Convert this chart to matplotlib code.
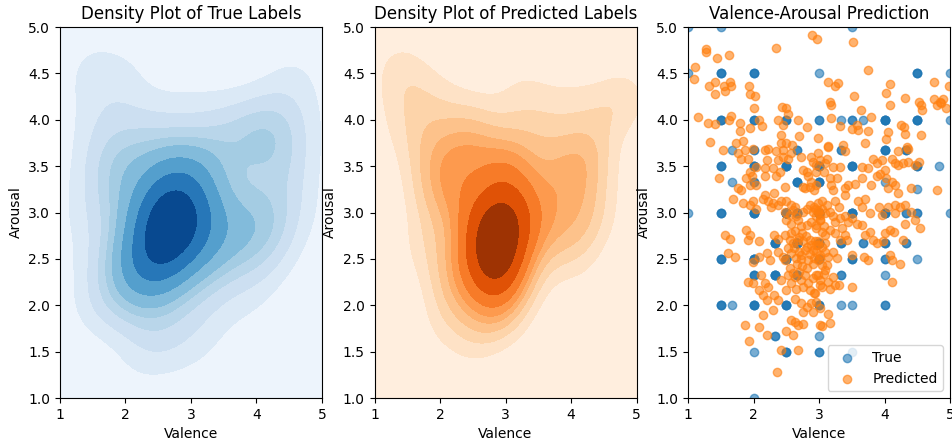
import numpy as np
import matplotlib
matplotlib.use("Agg")
import matplotlib.pyplot as plt
import seaborn as sns

# true labels sit on a coarse grid; count = number of samples at that spot
true_valence = [1.0, 1.5, 3.5,
                1.0, 1.5, 2.0, 3.0, 4.5, 5.0,
                1.5, 2.0, 2.5, 3.0, 3.33, 3.5, 3.67, 4.0, 4.5, 5.0,
                1.67, 2.0, 2.67, 3.33, 4.0, 4.33,
                1.5, 2.0, 2.5, 3.0, 3.5, 4.5, 4.83,
                1.67, 2.0, 2.67, 3.0, 4.0,
                4.5,
                1.0, 1.5, 2.0, 2.5, 2.67, 3.0, 3.5, 4.0, 4.33, 4.5, 5.0,
                2.33, 2.67, 3.0, 3.33, 3.67, 4.0, 4.33,
                1.5, 2.0, 2.5, 3.0, 3.5, 4.0, 4.5,
                2.0, 2.33, 2.67, 3.33, 4.0,
                1.5, 1.67, 2.0, 2.5, 3.0, 3.33, 3.5, 4.0,
                2.33, 3.0,
                2.0, 2.5, 3.0, 3.5,
                2.0]
true_arousal = [5.0] * 3 + [4.5] * 6 + [4.0] * 10 + [3.67] * 6 + [3.5] * 7 + \
               [3.33] * 5 + [3.25] + [3.0] * 11 + [2.67] * 7 + [2.5] * 7 + \
               [2.33] * 5 + [2.0] * 8 + [1.67] * 2 + [1.5] * 4 + [1.0]
true_count = [1, 1, 1,
              1, 3, 3, 1, 3, 1,
              3, 3, 3, 2, 1, 2, 1, 5, 4, 1,
              1, 2, 2, 2, 4, 3,
              3, 4, 5, 5, 4, 3, 1,
              1, 2, 4, 4, 1,
              1,
              1, 3, 5, 12, 5, 12, 6, 5, 2, 2, 1,
              5, 8, 5, 3, 2, 3, 2,
              3, 5, 6, 3, 3, 2, 1,
              3, 5, 4, 2, 1,
              3, 1, 4, 4, 3, 1, 1, 2,
              2, 1,
              1, 3, 2, 1,
              1]

# model predictions (valence, arousal)
predicted = [
    (1.10, 4.57), (1.09, 4.44), (1.28, 4.76), (1.28, 4.73), (1.45, 4.67), (1.63, 4.70),
    (2.35, 4.78), (2.89, 4.92), (2.97, 4.87), (1.41, 4.41), (1.32, 4.36), (1.55, 4.36),
    (1.64, 4.41), (1.56, 4.31), (1.65, 4.37), (1.41, 4.28), (1.93, 4.37), (1.95, 4.28),
    (2.02, 4.26), (2.00, 4.13), (1.16, 4.03), (1.30, 3.97), (1.41, 3.96), (1.62, 4.00),
    (1.65, 4.04), (1.79, 3.97), (1.80, 3.88), (1.95, 3.91), (2.13, 3.93), (2.09, 4.00),
    (2.37, 4.00), (2.44, 4.14), (2.49, 4.13), (2.52, 4.06), (2.45, 3.94), (2.68, 4.00),
    (2.82, 3.92), (1.33, 3.76), (1.74, 3.75), (1.84, 3.77), (2.42, 3.84), (2.42, 3.75),
    (2.49, 3.75), (2.59, 3.73), (2.70, 3.83), (2.98, 3.80),
    (3.52, 4.84), (3.75, 4.54), (3.13, 4.41), (3.25, 4.37), (3.29, 4.40), (4.08, 4.39),
    (4.03, 4.29), (3.54, 4.26), (4.75, 4.41), (4.99, 4.36), (3.17, 4.19), (3.18, 4.16),
    (4.32, 4.24), (4.08, 4.16), (3.64, 4.11), (4.53, 4.19), (4.56, 4.16), (4.58, 4.11),
    (4.75, 4.22), (4.80, 4.16), (4.85, 4.19), (4.90, 4.23), (4.87, 4.18), (4.94, 4.13),
    (3.18, 4.02), (3.80, 4.03), (3.32, 3.93), (3.50, 3.90), (3.58, 3.94), (3.59, 3.89),
    (3.75, 3.88), (4.25, 3.94), (4.30, 3.92), (4.32, 3.85), (4.05, 3.87), (4.03, 3.79),
    (4.56, 3.84), (3.70, 3.75), (3.14, 3.72), (3.37, 3.73), (4.35, 3.71),
    (1.53, 3.67), (1.76, 3.64), (1.87, 3.67), (1.99, 3.69), (2.17, 3.67), (2.22, 3.69),
    (2.35, 3.66), (2.45, 3.67), (2.58, 3.64), (2.73, 3.60), (2.88, 3.60), (2.98, 3.64),
    (1.81, 3.58), (1.92, 3.58), (2.20, 3.57), (2.37, 3.57), (2.45, 3.60), (2.53, 3.58),
    (2.91, 3.55), (2.96, 3.51), (2.04, 3.49), (2.17, 3.48), (2.30, 3.48), (2.40, 3.44),
    (2.17, 3.39), (1.94, 3.44), (1.97, 3.39), (1.89, 3.37), (1.48, 3.37), (1.76, 3.26),
    (1.81, 3.24), (1.94, 3.30), (2.04, 3.30), (2.35, 3.39), (2.76, 3.46), (2.81, 3.44),
    (2.83, 3.39), (2.88, 3.33), (2.76, 3.28), (2.78, 3.26), (2.86, 3.28), (2.96, 3.30),
    (2.93, 3.24), (2.48, 3.28), (1.69, 3.15), (1.84, 3.10), (1.94, 3.08), (1.99, 3.13),
    (2.15, 3.15), (2.17, 3.19), (2.32, 3.21), (2.22, 3.13), (2.30, 3.10), (2.37, 3.08),
    (2.42, 3.13), (2.50, 3.13), (2.27, 3.06), (2.04, 3.04), (2.58, 3.08), (2.63, 3.06),
    (2.60, 3.03), (2.48, 3.01), (2.55, 2.97), (2.65, 2.96), (2.76, 3.01), (2.81, 3.04),
    (2.86, 3.08), (2.93, 3.06), (2.91, 3.01), (2.98, 3.03), (2.98, 3.10), (3.01, 2.97),
    (2.68, 2.92), (2.73, 2.85), (2.81, 2.87), (2.88, 2.90), (2.96, 2.87), (3.01, 2.92),
    (2.58, 2.88), (2.50, 2.92), (1.89, 2.81), (1.92, 2.70), (2.09, 2.69), (1.56, 2.76),
    (1.64, 2.72), (1.94, 2.76), (2.32, 2.76), (2.37, 2.72), (2.48, 2.76), (2.55, 2.70),
    (2.60, 2.67), (2.70, 2.74), (2.76, 2.69), (2.81, 2.63), (2.88, 2.65), (2.91, 2.60),
    (2.98, 2.69), (2.96, 2.65), (1.61, 2.56), (1.71, 2.52), (1.99, 2.47), (2.09, 2.52),
    (2.20, 2.56), (2.25, 2.49), (2.37, 2.58), (2.45, 2.52), (2.48, 2.49), (2.58, 2.56),
    (2.65, 2.51), (2.73, 2.54), (2.83, 2.49), (2.93, 2.51), (2.91, 2.45), (3.01, 2.51),
    # tightly packed core, partly hidden behind neighbours
    (2.62, 2.62), (2.70, 2.58), (2.78, 2.60), (2.66, 2.45), (2.74, 2.42), (2.82, 2.40),
    (2.55, 2.40), (2.60, 2.35), (2.70, 2.36), (2.86, 2.55), (2.52, 2.62), (2.64, 2.80),
    (2.74, 2.78), (2.80, 2.75), (2.58, 2.78), (2.68, 2.70), (2.86, 2.70), (2.72, 2.50),
    (3.14, 3.71), (3.40, 3.66), (4.21, 3.66), (4.36, 3.69), (3.02, 3.57), (3.09, 3.53),
    (3.12, 3.58), (3.22, 3.49), (3.32, 3.49), (3.65, 3.49), (3.75, 3.48), (3.83, 3.58),
    (3.88, 3.53), (3.96, 3.57), (4.11, 3.58), (4.16, 3.53), (4.21, 3.51), (4.29, 3.53),
    (4.36, 3.55), (4.47, 3.51), (4.52, 3.55), (2.96, 3.44), (3.07, 3.44), (3.17, 3.37),
    (3.27, 3.37), (3.19, 3.30), (3.22, 3.24), (3.40, 3.26), (3.45, 3.30), (3.55, 3.31),
    (3.65, 3.37), (3.80, 3.30), (3.88, 3.39), (3.93, 3.42), (4.01, 3.46), (4.03, 3.37),
    (4.11, 3.33), (4.16, 3.30), (4.06, 3.26), (4.21, 3.21), (4.41, 3.26), (4.80, 3.24),
    (3.04, 3.12), (3.12, 3.08), (3.24, 3.12), (3.30, 3.06), (3.40, 3.19), (3.60, 3.13),
    (3.70, 3.15), (3.65, 3.06), (3.78, 2.99), (3.91, 3.06), (4.06, 3.06), (4.16, 3.08),
    (4.24, 3.06), (4.31, 3.08), (4.41, 3.01), (4.47, 2.92), (4.31, 2.88), (4.54, 2.83),
    (4.16, 2.99), (3.96, 2.97), (2.94, 3.04), (2.99, 3.01), (2.96, 2.96), (3.02, 2.92),
    (3.04, 3.04), (3.09, 2.99), (3.17, 3.01), (3.22, 2.96), (3.24, 2.90), (3.32, 2.94),
    (3.40, 2.96), (3.45, 2.90), (3.50, 2.94), (3.58, 2.88), (3.65, 2.87), (2.96, 2.83),
    (3.04, 2.79), (3.09, 2.76), (3.07, 2.85), (3.17, 2.81), (3.24, 2.78), (3.35, 2.83),
    (3.40, 2.76), (3.32, 2.70), (3.42, 2.70), (3.70, 2.76), (3.78, 2.79), (3.83, 2.70),
    (3.88, 2.67), (4.01, 2.78), (4.09, 2.81), (3.98, 2.69), (4.14, 2.79), (4.29, 2.70),
    (2.94, 2.69), (2.99, 2.65), (3.04, 2.63), (3.09, 2.67), (2.96, 2.58), (3.02, 2.54),
    (3.09, 2.58), (3.14, 2.52), (3.22, 2.58), (3.27, 2.51), (2.99, 2.49), (3.04, 2.43),
    (3.12, 2.43), (3.09, 2.38), (4.09, 2.54), (4.11, 2.49), (4.24, 2.45), (3.68, 2.52),
    (3.75, 2.49), (3.50, 2.54),
    (1.92, 2.25), (1.99, 2.24), (2.12, 2.33), (2.17, 2.24), (2.09, 2.16), (2.15, 2.11),
    (2.22, 2.20), (2.20, 2.06), (2.32, 2.11), (2.37, 2.06), (2.30, 1.95), (2.42, 2.27),
    (2.53, 2.33), (2.58, 2.24), (2.63, 2.31), (2.73, 2.27), (2.78, 2.33), (2.83, 2.24),
    (2.91, 2.29), (2.98, 2.33), (2.50, 2.16), (2.65, 2.18), (2.76, 2.20), (2.86, 2.16),
    (2.93, 2.13), (3.01, 2.22), (2.63, 2.07), (2.73, 2.02), (2.81, 1.98), (2.88, 2.02),
    (2.96, 2.04), (3.01, 1.97), (2.76, 1.93), (2.91, 1.93), (2.15, 1.89), (1.87, 1.79),
    (2.08, 1.77), (1.93, 1.61), (2.20, 1.68), (2.58, 1.84), (2.63, 1.82), (2.68, 1.79),
    (2.76, 1.80), (2.50, 1.72), (2.60, 1.68), (2.42, 1.52), (2.68, 1.52), (2.36, 1.28),
    (3.01, 1.79), (2.96, 2.33), (3.02, 2.27), (3.07, 2.34), (3.04, 2.20), (3.14, 2.25),
    (3.17, 2.18), (3.22, 2.31), (3.24, 2.22), (3.30, 2.22), (2.94, 2.13), (3.50, 2.20),
    (4.12, 2.25), (3.13, 1.91), (3.17, 1.81), (3.04, 1.78),
]

true_v = np.repeat(true_valence, true_count)
true_a = np.repeat(true_arousal, true_count)
pred_v = np.array([p[0] for p in predicted])
pred_a = np.array([p[1] for p in predicted])

fig = plt.figure(figsize=(9.52, 4.41), dpi=100)
ax1 = fig.add_axes([0.063, 0.0975, 0.2752, 0.841])
ax2 = fig.add_axes([0.3934, 0.0975, 0.2752, 0.841])
ax3 = fig.add_axes([0.7227, 0.0975, 0.2752, 0.841])

sns.kdeplot(x=true_v, y=true_a, fill=True, cmap="Blues", thresh=0, levels=10, ax=ax1)
ax1.set_title("Density Plot of True Labels")

sns.kdeplot(x=pred_v, y=pred_a, fill=True, cmap="Oranges", thresh=0, levels=10, ax=ax2)
ax2.set_title("Density Plot of Predicted Labels")

ax3.scatter(true_v, true_a, alpha=0.6, label="True")
ax3.scatter(pred_v, pred_a, alpha=0.6, label="Predicted")
ax3.set_title("Valence-Arousal Prediction")
ax3.legend(loc="lower right")

for ax in (ax1, ax2, ax3):
    ax.set_xlim(1, 5)
    ax.set_ylim(1, 5)
    ax.set_xlabel("Valence")
    ax.set_ylabel("Arousal")

fig.savefig("out.png", dpi=100)
